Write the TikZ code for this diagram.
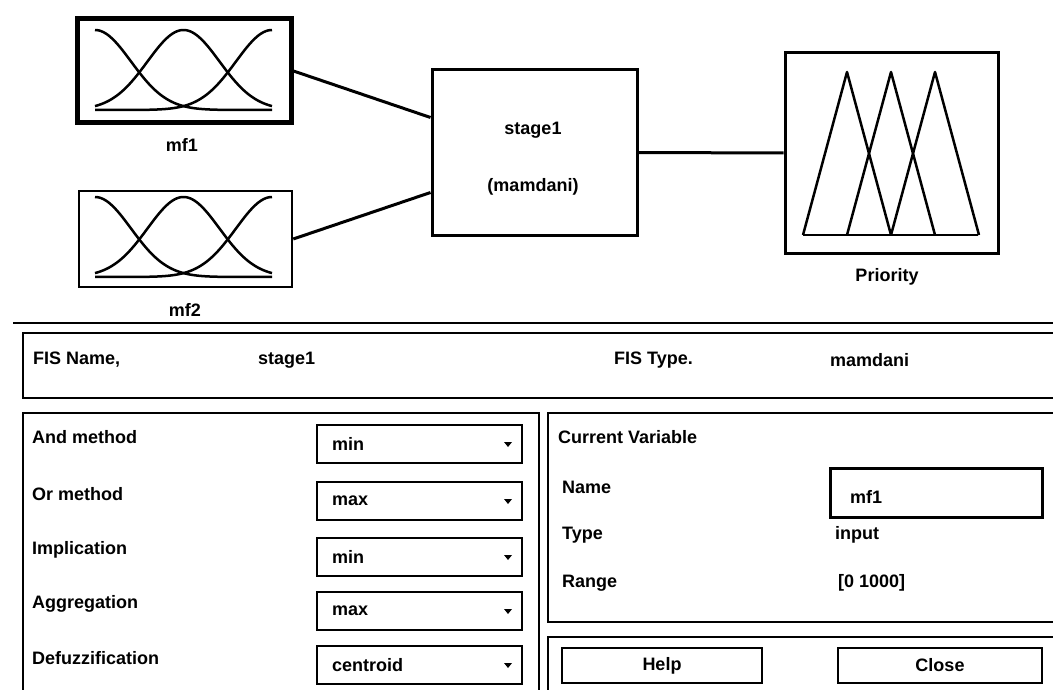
\documentclass[tikz,border=0pt]{standalone}
\usepackage{fontspec}
\setmainfont{Liberation Sans}
\usepackage{tikz}

\begin{document}
\begin{tikzpicture}[x=1pt, y=-1pt, every node/.style={font=\fontsize{18}{21}\selectfont\bfseries}]
    % Styles
    \tikzstyle{block} = [rectangle, draw=black, line width=3pt, inner sep=0pt]
    \tikzstyle{mf} = [line width=2.5pt, line join=round]
    \tikzstyle{link} = [line width=3pt]
    \tikzstyle{panel} = [draw=black, line width=2.5pt]
    \tikzstyle{popup} = [rectangle, draw=black, line width=2pt, minimum width=205pt, minimum height=38pt, inner sep=0pt]
    \tikzstyle{txt} = [anchor=west, inner sep=0pt]
    \tikzstyle{button} = [rectangle, draw=black, line width=2.5pt, minimum height=35pt, inner sep=0pt]

    \useasboundingbox[fill=white] (0,0) rectangle (1053,690);

    % Blocks of the system
    \node[block, line width=5pt, minimum width=214pt, minimum height=104pt] (In1) at (184,71) {};
    \node (L1) at (182,145) {mf1};
    \node[block, line width=2.5pt, minimum width=213pt, minimum height=96pt] (In2) at (185.5,239) {};
    \node (L2) at (185,310) {mf2};
    \node[block, minimum width=205pt, minimum height=165pt] (Sys) at (534.5,152.5) {};
    \node (S1) at (533,130) {stage1};
    \node (S2) at (533,187) {(mamdani)};
    \node[block, minimum width=213pt, minimum height=200pt] (Out) at (891.5,153) {};
    \node (L3) at (887,277) {Priority};

    % Links
    \draw[link] (In1.east) -- ([yshift=35pt]Sys.west);
    \draw[link] (In2.east) -- ([yshift=-40pt]Sys.west);
    \draw[link] (Sys.east) -- (Out.west);

    % Gaussian curves of the inputs
    \foreach \c in {95,183.5,272} {
        \draw[mf] plot[domain=95:272, samples=90] (\x, {110-80*exp(-0.5*((\x-\c)/36)^2)});
        \draw[mf] plot[domain=95:272, samples=90] (\x, {277-80*exp(-0.5*((\x-\c)/36)^2)});
    }

    % Triangles of the output
    \draw[mf] (803,235) -- (978,235);
    \foreach \a in {847,891,935}
        \draw[mf] ({\a-44},235) -- (\a,72) -- ({\a+44},235);

    % FIS panel
    \draw[panel] (13,323) -- (1053,323);
    \draw[panel] (23,333) rectangle (1070,398);
    \node[txt] (FN) at (33,360) {FIS Name,};
    \node[txt] (FNv) at (258,360) {stage1};
    \node[txt] (FT) at (614,360) {FIS Type.};
    \node[txt] (FTv) at (830,360) {mamdani};

    % Methods
    \draw[panel] (23,413) rectangle (539,710);
    \foreach \lab/\val/\y in {And method/min/444, Or method/max/501, Implication/min/557, Aggregation/max/611, Defuzzification/centroid/665} {
        \node[txt] (M\y) at (32,\y-7) {\lab};
        \node[popup] (P\y) at (419.5,\y) {};
        \node[txt] (V\y) at (332,\y) {\val};
        \fill ([xshift=-15pt]P\y.east) ++(-4,-2) -- ++(8,0) -- ++(-4,5) -- cycle;
    }

    % Current variable
    \draw[panel] (548,413) rectangle (1070,622);
    \node[txt] (CV) at (558,437) {Current Variable};
    \node[txt] (VN) at (562,487) {Name};
    \node[rectangle, draw=black, line width=3pt, minimum width=212pt, minimum height=49pt] (NameBox) at (936,492.5) {};
    \node[txt] (VNv) at (850,497) {mf1};
    \node[txt] (VT) at (562,535) {Type};
    \node[txt] (VTv) at (835,535) {input};
    \node[txt] (VR) at (562,583) {Range};
    \node[txt] (VRv) at (838,583) {[0 1000]};

    % Buttons
    \draw[panel] (548,637) rectangle (1070,710);
    \node[button, minimum width=200pt] (Help) at (662,665.5) {Help};
    \node[button, minimum width=204pt] (Close) at (940,665.5) {Close};
\end{tikzpicture}
\end{document}
